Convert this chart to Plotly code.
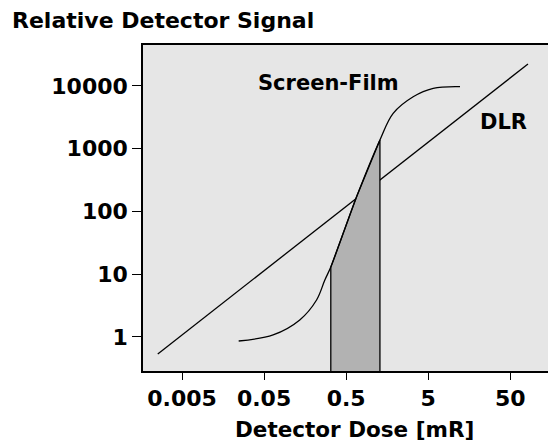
import plotly.graph_objects as go

# DLR (linear detector) response: dose [mR] -> relative signal
dlr_dose = [0.00253, 82.2]
dlr_signal = [0.536, 22400]

# Screen-film characteristic curve
sf_dose = [0.0245, 0.0644, 0.136, 0.218, 0.275, 0.325, 0.67, 1.29, 1.87, 3.28, 5.75, 12.2]
sf_signal = [0.863, 1.08, 1.87, 3.89, 8.1, 13, 172, 1380, 3670, 6750, 9190, 9750]

# Shaded useful exposure range of film (latitude)
lat_dose = [0.325, 0.325, 0.67, 1.29, 1.29]
lat_signal = [0.1, 13, 172, 1380, 0.1]

x_ticks = [0.005, 0.05, 0.5, 5, 50]
x_tick_text = ["0.005", "0.05", "0.5", "5", "50"]
y_ticks = [1, 10, 100, 1000, 10000]
y_tick_text = ["1", "10", "100", "1000", "10000"]

FONT = "DejaVu Sans"

fig = go.Figure()
fig.add_trace(go.Scatter(x=dlr_dose, y=dlr_signal, mode="lines",
                         line=dict(color="black", width=1.3), hoverinfo="skip"))
fig.add_trace(go.Scatter(x=lat_dose, y=lat_signal, mode="lines", fill="toself",
                         fillcolor="#b2b2b2", line=dict(color="black", width=1.3),
                         hoverinfo="skip"))
fig.add_trace(go.Scatter(x=sf_dose, y=sf_signal, mode="lines",
                         line=dict(color="black", width=1.3, shape="spline"),
                         hoverinfo="skip"))

fig.add_annotation(x=-0.512, y=4.048, xref="x", yref="y", text="Screen-Film",
                   showarrow=False, font=dict(family=FONT, size=21, color="black", weight="bold"))
fig.add_annotation(x=1.622, y=3.426, xref="x", yref="y", text="DLR",
                   showarrow=False, font=dict(family=FONT, size=21, color="black", weight="bold"))
fig.add_annotation(x=0, y=1, xref="paper", yref="paper", xanchor="left", yanchor="middle",
                   xshift=-133, yshift=25, text="Relative Detector Signal", showarrow=False,
                   font=dict(family=FONT, size=22, color="black", weight="bold"))
fig.add_annotation(x=0.523, y=0, xref="paper", yref="paper", xanchor="center", yanchor="middle",
                   yshift=-58, text="Detector Dose [mR]", showarrow=False,
                   font=dict(family=FONT, size=21.5, color="black", weight="bold"))

fig.update_layout(
    width=548, height=442,
    margin=dict(l=143, r=0, t=45, b=71),
    paper_bgcolor="white", plot_bgcolor="#e6e6e6",
    showlegend=False,
    font=dict(family=FONT, size=22, color="black", weight="bold"),
)
fig.update_xaxes(type="log", range=[-2.777, 2.159], tickvals=x_ticks, ticktext=x_tick_text,
                 ticks="outside", ticklen=7, tickwidth=1.2, tickcolor="black",
                 showline=True, linecolor="black", linewidth=1.5, mirror=True,
                 showgrid=False, zeroline=False,
                 tickfont=dict(family=FONT, size=22, color="black", weight="bold"))
fig.update_yaxes(type="log", range=[-0.542, 4.653], tickvals=y_ticks, ticktext=y_tick_text,
                 ticks="outside", ticklen=9, tickwidth=1.2, tickcolor="black",
                 showline=True, linecolor="black", linewidth=1.5, mirror=False,
                 showgrid=False, zeroline=False,
                 tickfont=dict(family=FONT, size=22, color="black", weight="bold"))

fig.write_html("out.html", config={"displayModeBar": False},
               post_script="document.body.style.margin='0';document.body.style.overflow='hidden';")
